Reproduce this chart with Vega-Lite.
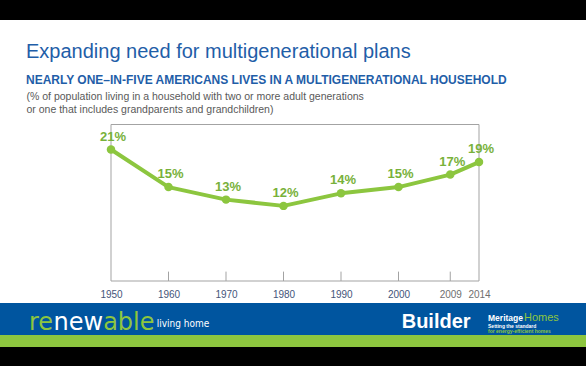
{
  "$schema": "https://vega.github.io/schema/vega-lite/v6.json",
  "background": "#000000",
  "padding": {"top": 20, "bottom": 19, "left": 0, "right": 0},
  "spacing": 0,
  "config": {"view": {"stroke": null}, "font": "Liberation Sans"},
  "datasets": {
    "share": [
      {"year": 1950, "pct": 0.21},
      {"year": 1960, "pct": 0.15},
      {"year": 1970, "pct": 0.13},
      {"year": 1980, "pct": 0.12},
      {"year": 1990, "pct": 0.14},
      {"year": 2000, "pct": 0.15},
      {"year": 2009, "pct": 0.17},
      {"year": 2014, "pct": 0.19}
    ],
    "footer": [
      {"re": "re", "new": "new", "able": "able", "tag": "living home", "publisher": "Builder", "brand1": "Meritage", "brand2": "Homes", "line1": "Setting the standard", "line2": "for energy-efficient homes"}
    ]
  },
  "vconcat": [
    {
      "width": 586,
      "height": 283,
      "view": {"fill": "#ffffff", "stroke": null},
      "data": {"name": "share"},
      "title": {
        "text": "Expanding need for multigenerational plans",
        "subtitle": "NEARLY ONE–IN-FIVE AMERICANS LIVES IN A MULTIGENERATIONAL HOUSEHOLD",
        "anchor": "start",
        "frame": "group",
        "dx": 26,
        "offset": -66,
        "font": "Liberation Sans",
        "fontSize": 20,
        "fontWeight": "normal",
        "color": "#1f5ea8",
        "subtitleFont": "Liberation Sans",
        "subtitleFontSize": 12,
        "subtitleFontWeight": "bold",
        "subtitleColor": "#1f5ea8",
        "subtitlePadding": 13
      },
      "encoding": {
        "x": {
          "field": "year",
          "type": "quantitative",
          "scale": {"domain": [1950, 2014], "range": [111, 479], "nice": false, "zero": false},
          "axis": {
            "orient": "bottom",
            "offset": -22,
            "domain": false,
            "ticks": false,
            "grid": false,
            "labelPadding": 8,
            "labelFontSize": 10,
            "labelFont": "Liberation Sans",
            "labelColor": {"condition": {"test": "datum.value >= 2009", "value": "#6f6f6f"}, "value": "#44557a"},
            "values": [1950, 1960, 1970, 1980, 1990, 2000, 2009, 2014],
            "format": "d",
            "labelFlush": false,
            "labelOverlap": false,
            "title": null
          }
        },
        "y": {
          "field": "pct",
          "type": "quantitative",
          "scale": {"domain": [0, 0.25], "range": [261, 104.5], "nice": false},
          "axis": {
            "orient": "left",
            "domain": false,
            "ticks": false,
            "labels": false,
            "grid": false,
            "title": ["(% of population living in a household with two or more adult generations", "or one that includes grandparents and grandchildren)"],
            "titleAngle": 0,
            "titleAlign": "left",
            "titleBaseline": "alphabetic",
            "titleX": 26,
            "titleY": 79,
            "titleFont": "Liberation Sans",
            "titleFontSize": 10.5,
            "titleFontWeight": "normal",
            "titleColor": "#595959",
            "titleLineHeight": 13
          }
        }
      },
      "layer": [
        {
          "transform": [{"filter": "datum.year == 1950"}],
          "mark": {"type": "rect", "fill": null, "stroke": "#a3a3a3", "strokeWidth": 1},
          "encoding": {
            "x": {"datum": 1950, "type": "quantitative", "scale": {"domain": [1950, 2014], "range": [111, 479], "nice": false, "zero": false}},
            "x2": {"datum": 2014},
            "y": {"datum": 0, "type": "quantitative", "scale": {"domain": [0, 0.25], "range": [261, 104.5], "nice": false}},
            "y2": {"datum": 0.25}
          }
        },
        {
          "transform": [{"filter": "datum.year != 1950 && datum.year != 2014"}],
          "mark": {"type": "rule", "color": "#a3a3a3", "strokeWidth": 1},
          "encoding": {
            "y": {"datum": 0, "type": "quantitative", "scale": {"domain": [0, 0.25], "range": [261, 104.5], "nice": false}},
            "y2": {"datum": 0.015}
          }
        },
        {
          "mark": {"type": "line", "color": "#8cc63f", "strokeWidth": 4, "strokeJoin": "round", "strokeCap": "round"}
        },
        {
          "mark": {"type": "circle", "size": 72, "color": "#8cc63f", "opacity": 1}
        },
        {
          "mark": {"type": "text", "dy": -9, "dx": 2, "baseline": "alphabetic", "fontSize": 13, "fontWeight": "bold", "color": "#78b13a", "font": "Liberation Sans"},
          "encoding": {"text": {"field": "pct", "type": "quantitative", "format": ".0%"}}
        }
      ]
    },
    {
      "width": 586,
      "height": 44,
      "view": {"fill": "#00559f", "stroke": null},
      "data": {"name": "footer"},
      "layer": [
        {
          "mark": {"type": "rect", "color": "#8dc63f"},
          "encoding": {
            "x": {"datum": 0, "type": "quantitative", "scale": {"domain": [0, 1], "nice": false}, "axis": null},
            "x2": {"datum": 1},
            "y": {"datum": 0, "type": "quantitative", "scale": {"domain": [0, 1], "nice": false}, "axis": null},
            "y2": {"datum": 0.2727}
          }
        },
        {
          "mark": {"type": "text", "align": "left", "baseline": "alphabetic", "font": "DejaVu Sans", "fontSize": 24, "color": "#8dc63f"},
          "encoding": {
            "x": {"datum": 0.0495, "type": "quantitative", "scale": {"domain": [0, 1], "nice": false}, "axis": null},
            "y": {"datum": 0.393, "type": "quantitative", "scale": {"domain": [0, 1], "nice": false}, "axis": null},
            "text": {"field": "re"}
          }
        },
        {
          "mark": {"type": "text", "align": "left", "baseline": "alphabetic", "font": "DejaVu Sans", "fontSize": 24, "color": "#ffffff"},
          "encoding": {
            "x": {"datum": 0.0915, "type": "quantitative", "scale": {"domain": [0, 1], "nice": false}, "axis": null},
            "y": {"datum": 0.393, "type": "quantitative", "scale": {"domain": [0, 1], "nice": false}, "axis": null},
            "text": {"field": "new"}
          }
        },
        {
          "mark": {"type": "text", "align": "left", "baseline": "alphabetic", "font": "DejaVu Sans", "fontSize": 24, "color": "#8dc63f"},
          "encoding": {
            "x": {"datum": 0.176, "type": "quantitative", "scale": {"domain": [0, 1], "nice": false}, "axis": null},
            "y": {"datum": 0.393, "type": "quantitative", "scale": {"domain": [0, 1], "nice": false}, "axis": null},
            "text": {"field": "able"}
          }
        },
        {
          "mark": {"type": "text", "align": "left", "baseline": "alphabetic", "font": "DejaVu Sans Condensed", "fontSize": 10, "color": "#ffffff"},
          "encoding": {
            "x": {"datum": 0.2674, "type": "quantitative", "scale": {"domain": [0, 1], "nice": false}, "axis": null},
            "y": {"datum": 0.448, "type": "quantitative", "scale": {"domain": [0, 1], "nice": false}, "axis": null},
            "text": {"field": "tag"}
          }
        },
        {
          "mark": {"type": "text", "align": "left", "baseline": "alphabetic", "font": "Liberation Sans", "fontWeight": "bold", "fontSize": 20, "color": "#ffffff"},
          "encoding": {
            "x": {"datum": 0.6855, "type": "quantitative", "scale": {"domain": [0, 1], "nice": false}, "axis": null},
            "y": {"datum": 0.425, "type": "quantitative", "scale": {"domain": [0, 1], "nice": false}, "axis": null},
            "text": {"field": "publisher"}
          }
        },
        {
          "mark": {"type": "text", "align": "left", "baseline": "alphabetic", "font": "Liberation Sans", "fontWeight": "bold", "fontSize": 8.5, "color": "#ffffff"},
          "encoding": {
            "x": {"datum": 0.8328, "type": "quantitative", "scale": {"domain": [0, 1], "nice": false}, "axis": null},
            "y": {"datum": 0.598, "type": "quantitative", "scale": {"domain": [0, 1], "nice": false}, "axis": null},
            "text": {"field": "brand1"}
          }
        },
        {
          "mark": {"type": "text", "align": "left", "baseline": "alphabetic", "font": "Liberation Sans", "fontSize": 11, "color": "#8dc63f"},
          "encoding": {
            "x": {"datum": 0.8942, "type": "quantitative", "scale": {"domain": [0, 1], "nice": false}, "axis": null},
            "y": {"datum": 0.598, "type": "quantitative", "scale": {"domain": [0, 1], "nice": false}, "axis": null},
            "text": {"field": "brand2"}
          }
        },
        {
          "mark": {"type": "text", "align": "left", "baseline": "alphabetic", "font": "Liberation Sans", "fontWeight": "bold", "fontSize": 5, "color": "#ffffff"},
          "encoding": {
            "x": {"datum": 0.8328, "type": "quantitative", "scale": {"domain": [0, 1], "nice": false}, "axis": null},
            "y": {"datum": 0.432, "type": "quantitative", "scale": {"domain": [0, 1], "nice": false}, "axis": null},
            "text": {"field": "line1"}
          }
        },
        {
          "mark": {"type": "text", "align": "left", "baseline": "alphabetic", "font": "Liberation Sans", "fontWeight": "bold", "fontSize": 5, "color": "#8dc63f"},
          "encoding": {
            "x": {"datum": 0.8328, "type": "quantitative", "scale": {"domain": [0, 1], "nice": false}, "axis": null},
            "y": {"datum": 0.318, "type": "quantitative", "scale": {"domain": [0, 1], "nice": false}, "axis": null},
            "text": {"field": "line2"}
          }
        }
      ]
    }
  ]
}
